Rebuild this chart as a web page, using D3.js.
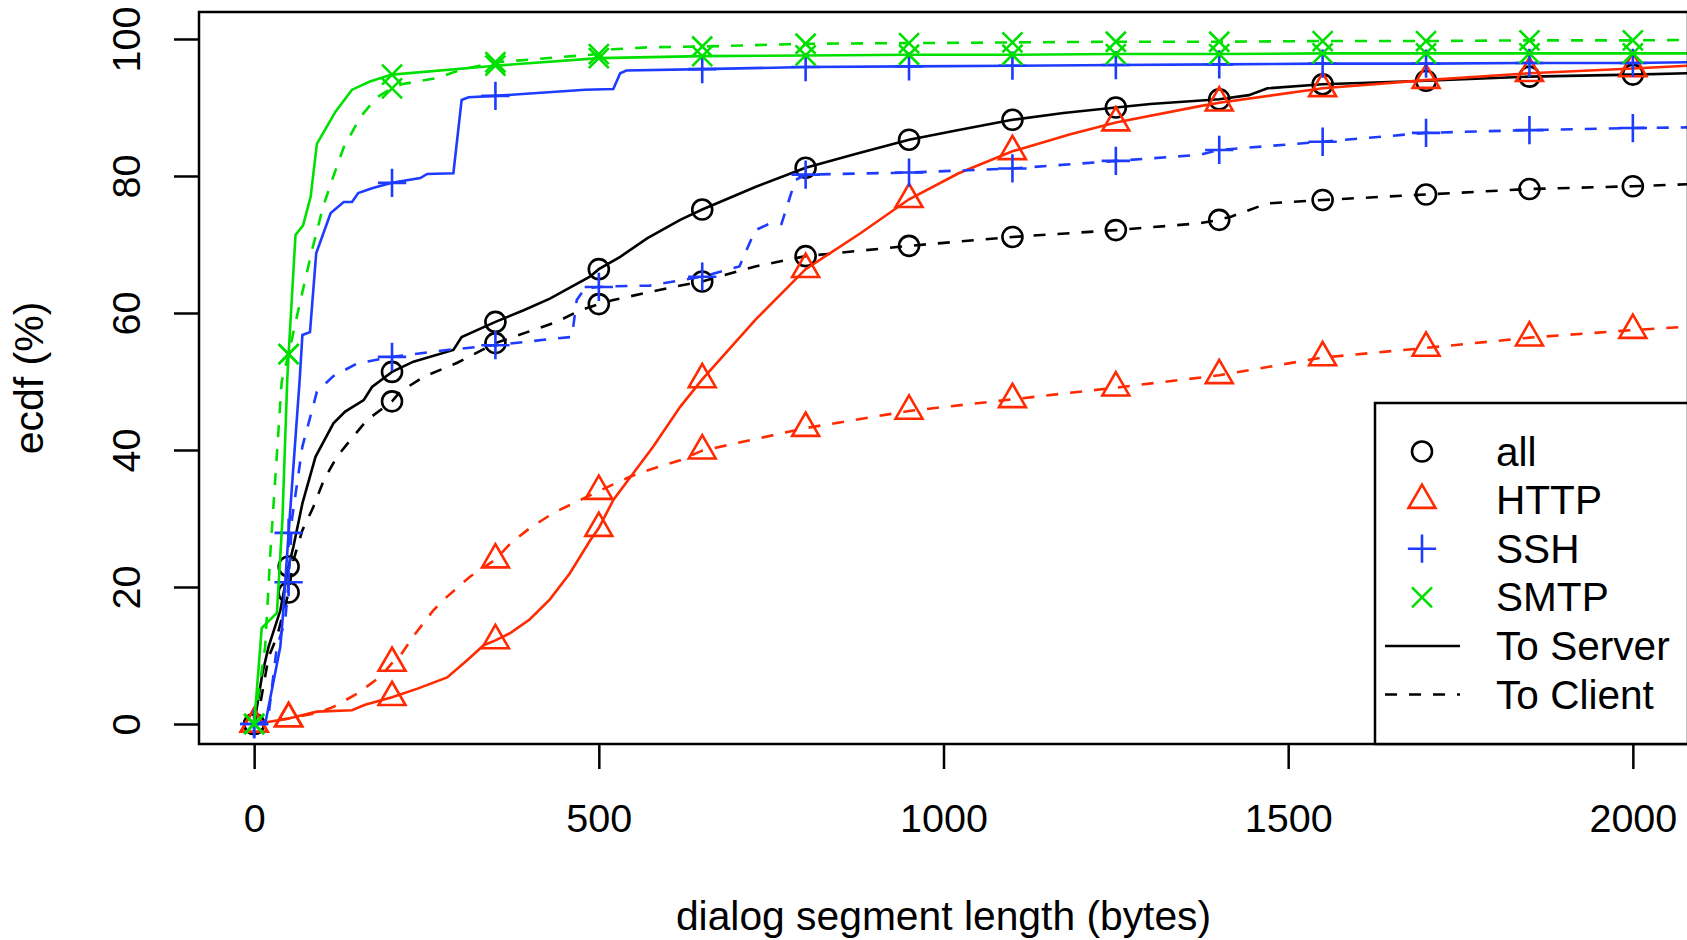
<!DOCTYPE html>
<html>
<head>
<meta charset="utf-8">
<script src="https://cdn.jsdelivr.net/npm/d3@7"></script>
<style>
  html, body { margin: 0; padding: 0; background: #fff; }
  svg { display: block; font-family: "Liberation Sans", Arial, Helvetica, sans-serif; }
</style>
</head>
<body>
<div id="chart"></div>
<script>
// ecdf curves, [bytes, percent]
const allServer = [[0,0],[12,7.4],[21,11.3],[38,16.6],[50,23],[57,25.9],[70,32.2],[89,39],[115,43.9],[132,45.6],[159,47.3],[171,49.2],[200,51.4],[231,52.9],[289,54.6],[301,56.5],[350,58.7],[391,60.4],[429,62.1],[487,65.3],[500,66.4],[531,68.2],[570,70.9],[618,73.6],[650,75.1],[727,78.4],[800,81.2],[875,83.3],[950,85.3],[1022,86.7],[1100,88.2],[1174,89.2],[1250,90.0],[1300,90.5],[1400,91.2],[1443,91.8],[1470,92.8],[1550,93.4],[1700,93.9],[1850,94.5],[2000,94.8],[2080,95.0]];
const allClient = [[0,0],[9,3],[21,9.8],[33,12.7],[50,19.2],[57,23.9],[70,28.3],[86,31.7],[101,35.6],[120,39],[140,41.5],[164,44.4],[200,47.1],[212,48.5],[246,50.7],[294,52.7],[350,55.6],[376,56.5],[439,58.7],[473,60.4],[500,61.3],[521,61.9],[608,63.8],[650,64.6],[727,66.8],[800,68.3],[950,69.8],[1100,71.1],[1250,72.1],[1372,73.1],[1400,73.6],[1418,74.1],[1470,76.0],[1550,76.5],[1700,77.3],[1850,78.1],[2000,78.5],[2080,78.8]];
const httpServer = [[0,0],[20,0.3],[50,0.8],[91,1.8],[142,2.0],[161,2.8],[200,3.9],[238,5.2],[280,6.8],[309,9.3],[333,11.5],[350,12.2],[372,13.3],[400,15.3],[429,18.2],[458,22],[488,26.9],[500,28.6],[521,32.7],[550,36.6],[579,40.5],[618,46.3],[650,50.3],[727,59],[800,66.4],[879,71.6],[950,76.6],[1022,80.4],[1100,83.6],[1184,86.1],[1250,87.8],[1372,90.2],[1400,90.7],[1550,92.8],[1700,94.0],[1850,95.0],[2000,95.7],[2080,96.1]];
const httpClient = [[0,0],[38,0.6],[50,0.8],[91,1.6],[115,2.5],[149,4.4],[183,6.9],[200,8.9],[212,10],[234,13.2],[260,16.6],[280,18.6],[313,21.5],[350,24],[372,26.4],[400,28.6],[434,30.8],[473,32.7],[500,34],[545,36.1],[579,37.3],[618,38.5],[650,39.9],[800,43.2],[950,45.7],[1100,47.4],[1250,49.1],[1400,50.9],[1550,53.5],[1700,54.9],[1850,56.4],[2000,57.5],[2080,58.0]];
const sshServer = [[0,0],[16,0],[38,11.3],[42,16.2],[50,27.9],[66,50.2],[70,56.8],[81,57.2],[90,68.7],[111,74.6],[130,76.2],[142,76.2],[151,77.5],[171,78.2],[200,79],[241,79.7],[251,80.3],[289,80.4],[301,91.1],[311,91.5],[350,91.7],[480,92.6],[521,92.7],[531,95],[540,95.4],[650,95.6],[800,95.9],[950,96.0],[1100,96.1],[1250,96.2],[1400,96.3],[1550,96.4],[1700,96.4],[1850,96.5],[2000,96.5],[2080,96.6]];
const sshClient = [[0,0],[20,0.5],[33,11.3],[45,15],[50,20.7],[55,30],[70,40.5],[91,48.5],[115,50.8],[149,52.6],[200,53.6],[280,54.6],[350,55.3],[439,56.3],[461,56.5],[468,61.9],[480,63.6],[500,63.8],[521,63.9],[574,64.0],[650,65.3],[704,66.8],[727,72.1],[747,73],[765,73],[785,79.4],[800,80.2],[950,80.5],[1100,81.1],[1250,82.2],[1372,83.1],[1400,83.8],[1550,85.0],[1700,86.3],[1850,86.7],[2000,87.0],[2080,87.1]];
const smtpServer = [[0,0],[11,14],[33,16.2],[41,29.8],[48,50.2],[50,54],[60,71.4],[71,72.8],[82,77],[91,84.7],[118,89.4],[142,92.6],[168,93.8],[200,94.8],[350,96.1],[500,97.2],[650,97.5],[800,97.6],[950,97.7],[1100,97.7],[1250,97.8],[1400,97.8],[1550,97.9],[1700,97.9],[1850,97.9],[2000,97.9],[2080,97.9]];
const smtpClient = [[0,0],[16,11.3],[24,25.8],[40,50],[50,54],[64,60.4],[84,69.2],[100,75.5],[113,79.4],[130,84.2],[154,88.6],[178,91.5],[200,92.8],[214,93.4],[265,94.3],[300,95.5],[350,96.6],[500,97.8],[520,98.5],[574,98.8],[650,98.9],[800,99.3],[950,99.4],[1100,99.5],[1250,99.6],[1400,99.6],[1550,99.7],[1700,99.7],[1850,99.8],[2000,99.8],[2080,99.85]];

const markerX = [0, 50, 200, 350, 500, 650, 800, 950, 1100, 1250, 1400, 1550, 1700, 1850, 2000];
const xTicks = [0, 500, 1000, 1500, 2000];
const yTicks = [0, 20, 40, 60, 80, 100];
const protocols = ["all", "HTTP", "SSH", "SMTP"];
const directions = ["To Server", "To Client"];

const W = 1687, H = 940;
const colors = { all: "#000000", HTTP: "#ff2a00", SSH: "#1e3cff", SMTP: "#00e000" };
const shapes = { all: "circle", HTTP: "triangle", SSH: "plus", SMTP: "cross" };
const series = [
  { proto: "all", dir: 0, data: allServer }, { proto: "all", dir: 1, data: allClient },
  { proto: "HTTP", dir: 0, data: httpServer }, { proto: "HTTP", dir: 1, data: httpClient },
  { proto: "SSH", dir: 0, data: sshServer }, { proto: "SSH", dir: 1, data: sshClient },
  { proto: "SMTP", dir: 0, data: smtpServer }, { proto: "SMTP", dir: 1, data: smtpClient }
];

const plot = { left: 199, right: 1688, top: 12, bottom: 744 };
const x = d3.scaleLinear().domain([-80, 2080]).range([plot.left, plot.right]);
const y = d3.scaleLinear().domain([-2.92, 103.94]).range([plot.bottom, plot.top]);

const svg = d3.select("#chart").append("svg").attr("width", W).attr("height", H);

svg.append("clipPath").attr("id", "clip").append("rect")
  .attr("x", plot.left).attr("y", plot.top)
  .attr("width", plot.right - plot.left).attr("height", plot.bottom - plot.top);

// marker paths (R pch 2, 3, 4), centred on the point
function markerPath(shape) {
  const c = 10;
  if (shape === "triangle") {
    const r = 1.5551 * c, h = 1.3468 * c, yc = 0.7776 * c;
    return `M0,${-r}L${h},${yc}L${-h},${yc}Z`;
  }
  if (shape === "plus") {
    const p = 1.4142 * c;
    return `M${-p},0H${p}M0,${-p}V${p}`;
  }
  return `M${-c},${-c}L${c},${c}M${-c},${c}L${c},${-c}`;
}

function drawMarker(g, shape, color) {
  if (shape === "circle") {
    g.append("circle").attr("r", 10).attr("fill", "none").attr("stroke", color).attr("stroke-width", 2.6);
  } else {
    g.append("path").attr("d", markerPath(shape)).attr("fill", "none")
      .attr("stroke", color).attr("stroke-width", 2.6);
  }
}

const line = d3.line().x(d => x(d[0])).y(d => y(d[1]));
const plotG = svg.append("g").attr("clip-path", "url(#clip)");

series.forEach(s => {
  const color = colors[s.proto];
  plotG.append("path")
    .datum(s.data)
    .attr("d", line)
    .attr("fill", "none")
    .attr("stroke", color)
    .attr("stroke-width", 2.6)
    .attr("stroke-dasharray", s.dir === 1 ? "12,12" : null);

  s.data.filter(d => markerX.includes(d[0])).forEach(d => {
    const g = plotG.append("g").attr("transform", `translate(${x(d[0])},${y(d[1])})`);
    drawMarker(g, shapes[s.proto], color);
  });
});

// axes
const xAxis = svg.append("g")
  .attr("transform", `translate(0,${plot.bottom})`)
  .call(d3.axisBottom(x).tickValues(xTicks).tickFormat(d3.format("d")).tickSize(25).tickPadding(35));
const yAxis = svg.append("g")
  .attr("transform", `translate(${plot.left},0)`)
  .call(d3.axisLeft(y).tickValues(yTicks).tickFormat(d3.format("d")).tickSize(25));

[xAxis, yAxis].forEach(a => {
  a.select(".domain").remove();
  a.selectAll(".tick line").attr("stroke", "#000").attr("stroke-width", 2.5);
  a.selectAll(".tick text").attr("font-size", 39.5).attr("fill", "#000")
    .attr("font-family", "Liberation Sans, Arial, sans-serif");
});

yAxis.selectAll(".tick text")
  .attr("transform", "rotate(-90)")
  .attr("x", 0).attr("y", -59).attr("dy", 0)
  .attr("text-anchor", "middle");

svg.append("rect")
  .attr("x", plot.left).attr("y", plot.top)
  .attr("width", plot.right - plot.left).attr("height", plot.bottom - plot.top)
  .attr("fill", "none").attr("stroke", "#000").attr("stroke-width", 2.5);

svg.append("text")
  .attr("x", (plot.left + plot.right) / 2).attr("y", 930)
  .attr("text-anchor", "middle").attr("font-size", 40.8)
  .text("dialog segment length (bytes)");

svg.append("text")
  .attr("transform", `translate(43,${(plot.top + plot.bottom) / 2}) rotate(-90)`)
  .attr("text-anchor", "middle").attr("font-size", 41)
  .text("ecdf (%)");

// legend, bottom right
const leg = svg.append("g");
leg.append("rect")
  .attr("x", 1375).attr("y", 403)
  .attr("width", plot.right - 1375).attr("height", plot.bottom - 403)
  .attr("fill", "#fff").attr("stroke", "#000").attr("stroke-width", 2.5);

const rowY = i => 451.5 + i * 48.6;
protocols.forEach((p, i) => {
  const g = leg.append("g").attr("transform", `translate(1422,${rowY(i)})`);
  drawMarker(g, shapes[p], colors[p]);
  leg.append("text").attr("x", 1496).attr("y", rowY(i) + 14)
    .attr("font-size", 40.6).text(p);
});
directions.forEach((dname, j) => {
  const i = protocols.length + j;
  leg.append("line")
    .attr("x1", 1385).attr("x2", 1460).attr("y1", rowY(i)).attr("y2", rowY(i))
    .attr("stroke", "#000").attr("stroke-width", 2.5)
    .attr("stroke-dasharray", j === 1 ? "12,12" : null);
  leg.append("text").attr("x", 1496).attr("y", rowY(i) + 14)
    .attr("font-size", 40.6).text(dname);
});
</script>
</body>
</html>
